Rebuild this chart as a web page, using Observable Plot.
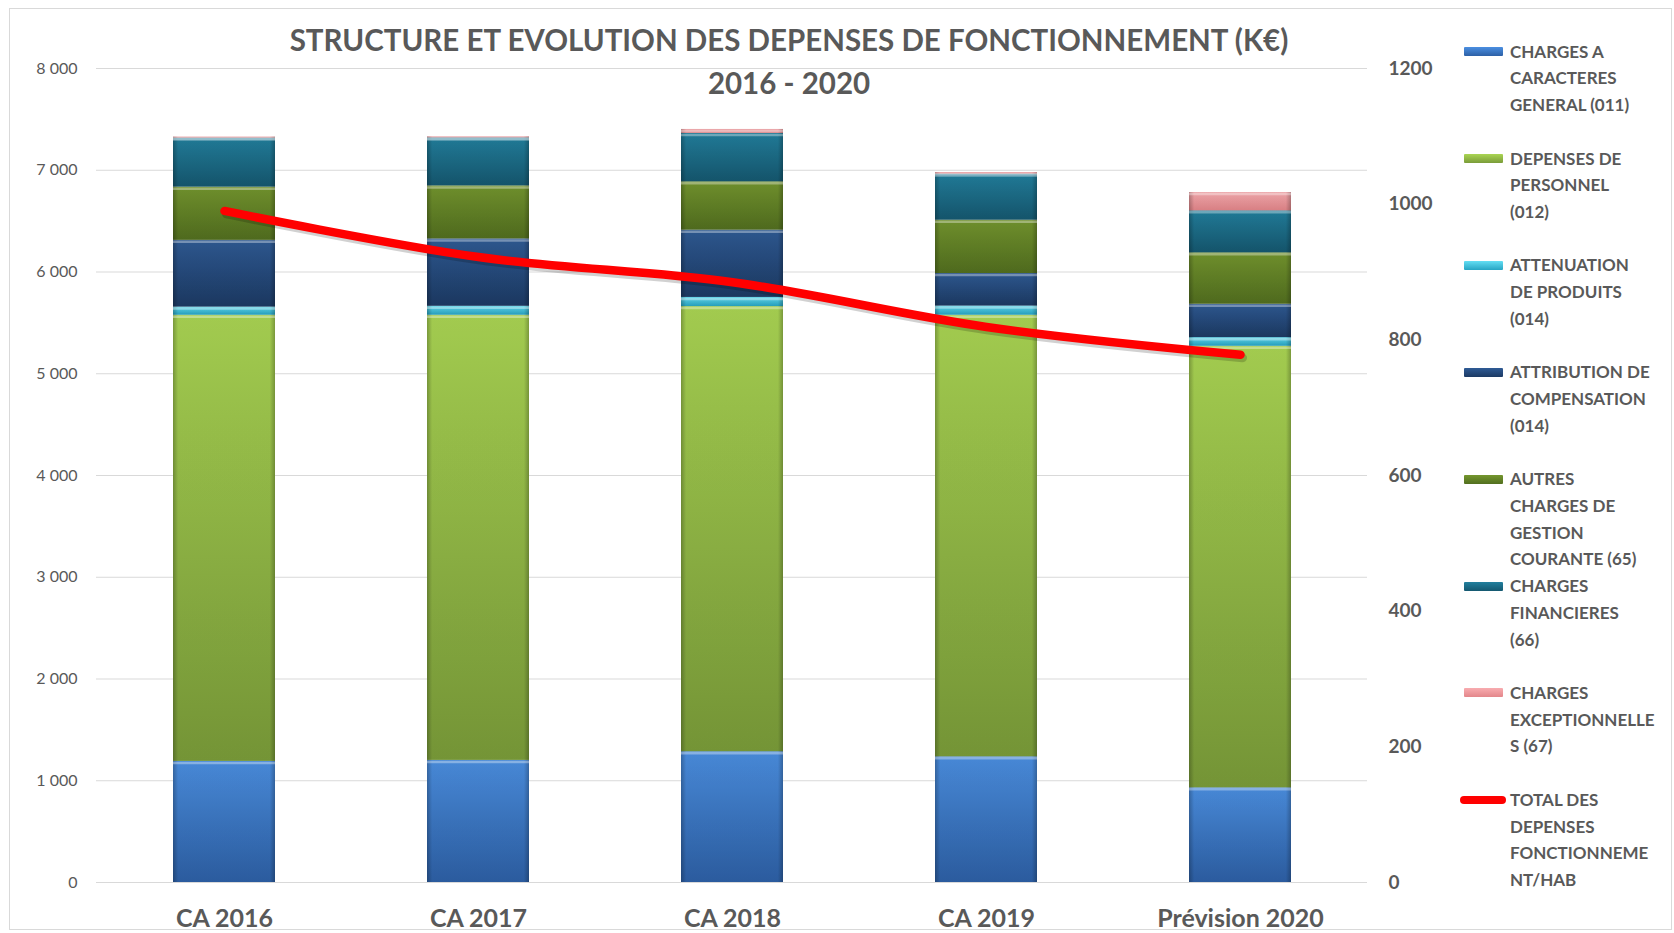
<!DOCTYPE html>
<html><head><meta charset="utf-8">
<script src="https://cdn.jsdelivr.net/npm/d3@7"></script>
<script src="https://cdn.jsdelivr.net/npm/@observablehq/plot@0.6"></script>
<style>
html,body{margin:0;padding:0;background:#fff;}
#wrap{position:relative;width:1674px;height:933px;overflow:hidden;font-family:Lato,"Open Sans",sans-serif;color:#595959;}
#frame{position:absolute;left:9px;top:8px;width:1663px;height:922px;border:1px solid #d9d9d9;box-sizing:border-box;}
#chart{position:absolute;left:0;top:0;}
#title{position:absolute;left:0;top:18px;width:1578px;text-align:center;font-weight:bold;font-size:29.5px;line-height:43px;color:#595959;}
.leg{position:absolute;left:1510px;font-weight:bold;font-size:17px;line-height:26.7px;color:#595959;white-space:nowrap;}
.sw{position:absolute;left:1464px;width:39px;height:9px;border-radius:1px;}
.swl{position:absolute;left:1460px;width:46px;height:8px;border-radius:4px;background:#ff0000;}
</style>
</head><body>
<svg width="0" height="0" style="position:absolute">
<defs id="defs"></defs>
</svg>
<div id="wrap">
<div id="frame"></div>
<div id="chart"></div>
<div id="title">STRUCTURE ET EVOLUTION DES DEPENSES DE FONCTIONNEMENT (K€)<br>2016 - 2020</div>
<div id="legend"></div>
</div>
<script>
// ---- data ----
const categories = ["CA 2016", "CA 2017", "CA 2018", "CA 2019", "Prévision 2020"];
const seriesNames = [
  "CHARGES A CARACTERES GENERAL (011)",
  "DEPENSES DE PERSONNEL (012)",
  "ATTENUATION DE PRODUITS (014)",
  "ATTRIBUTION DE COMPENSATION (014)",
  "AUTRES CHARGES DE GESTION COURANTE (65)",
  "CHARGES FINANCIERES (66)",
  "CHARGES EXCEPTIONNELLES (67)"
];
const chargesGenerales011 = [1190, 1200, 1285, 1235, 930];
const personnel012 = [4385, 4375, 4375, 4340, 4340];
const attenuation014 = [80, 88, 90, 90, 85];
const attribution014 = [656, 662, 661, 320, 328];
const autresGestion65 = [523, 521, 475, 524, 505];
const financieres66 = [482, 472, 476, 453, 413];
const exceptionnelles67 = [10, 10, 39, 15, 180];
const lineName = "TOTAL DES DEPENSES FONCTIONNEMENT/HAB";
const totalParHab = [990, 922, 885, 819, 778];
const leftTicks = [0, 1000, 2000, 3000, 4000, 5000, 6000, 7000, 8000];
const rightTicks = [0, 200, 400, 600, 800, 1000, 1200];
const legendLines = [
  ["CHARGES A", "CARACTERES", "GENERAL (011)"],
  ["DEPENSES DE", "PERSONNEL", "(012)"],
  ["ATTENUATION", "DE PRODUITS", "(014)"],
  ["ATTRIBUTION DE", "COMPENSATION", "(014)"],
  ["AUTRES", "CHARGES DE", "GESTION", "COURANTE (65)"],
  ["CHARGES", "FINANCIERES", "(66)"],
  ["CHARGES", "EXCEPTIONNELLE", "S (67)"],
  ["TOTAL DES", "DEPENSES", "FONCTIONNEME", "NT/HAB"]
];
const colorsTop = ["#4b8fe1", "#aad553", "#63def3", "#2f5b95", "#74962e", "#22809e", "#f8acb0"];
const colorsBottom = ["#2d60a6", "#7a9c39", "#27a5c4", "#1c3a64", "#526f1f", "#155870", "#e3868a"];

// ---- gradients ----
const defs = document.getElementById("defs");
let html = "";
seriesNames.forEach((s, i) => {
  html += `<linearGradient id="g${i}" x1="0" y1="0" x2="0" y2="1"><stop offset="0" stop-color="${colorsTop[i]}"/><stop offset="1" stop-color="${colorsBottom[i]}"/></linearGradient>`;
});
html += `<linearGradient id="sides" x1="0" y1="0" x2="1" y2="0"><stop offset="0" stop-color="#000" stop-opacity="0.28"/><stop offset="0.05" stop-color="#000" stop-opacity="0.05"/><stop offset="0.95" stop-color="#000" stop-opacity="0.05"/><stop offset="1" stop-color="#000" stop-opacity="0.28"/></linearGradient>`;
defs.innerHTML = html;

const valuesBySeries = [chargesGenerales011, personnel012, attenuation014, attribution014, autresGestion65, financieres66, exceptionnelles67];
const rows = categories.flatMap((c, i) => seriesNames.map((s, j) => ({cat: c, serie: s, value: valuesBySeries[j][i]})));
const k = 8000 / 1200;
const lineRows = categories.map((c, i) => ({cat: c, v: totalParHab[i]}));
const fmt = d => d3.format(",")(d).replace(/,/g, " ");

const chart = Plot.plot({
  width: 1674, height: 933,
  marginTop: 68, marginBottom: 51, marginLeft: 96, marginRight: 307,
  style: {fontFamily: "Lato, 'Open Sans', sans-serif", color: "#595959", background: "transparent", overflow: "visible"},
  x: {domain: categories, paddingInner: 0.6, paddingOuter: 0.3, label: null},
  y: {domain: [0, 8000], label: null},
  color: {domain: seriesNames, range: seriesNames.map((s, i) => `url(#g${i})`)},
  marks: [
    Plot.gridY(leftTicks, {stroke: "#d9d9d9", strokeOpacity: 1, strokeWidth: 1.2}),
    Plot.axisY(leftTicks, {anchor: "left", tickSize: 0, tickPadding: 19, tickFormat: fmt, fontSize: 16, label: null}),
    Plot.axisY(rightTicks.map(v => v * k), {anchor: "right", tickSize: 0, tickPadding: 21, tickFormat: d => String(Math.round(d / k)), fontSize: 19, fontWeight: "bold", label: null}),
    Plot.axisX({tickSize: 0, tickPadding: 27, fontSize: 25, fontWeight: "bold", label: null}),
    Plot.barY(rows, {x: "cat", y: "value", z: "serie", fill: "serie", order: seriesNames}),
    Plot.barY(rows, {x: "cat", y: "value", z: "serie", fill: "url(#sides)", order: seriesNames}),
    Plot.tickY(rows, Plot.stackY2({x: "cat", y: "value", z: "serie", order: seriesNames, stroke: "#ffffff", strokeOpacity: 0.35, strokeWidth: 2.5, dy: 1.5})),
    Plot.line(lineRows, {x: "cat", y: d => d.v * k, stroke: "#000", strokeOpacity: 0.18, strokeWidth: 9, strokeLinecap: "round", curve: "catmull-rom", dy: 3, dx: 2}),
    Plot.line(lineRows, {x: "cat", y: d => d.v * k, stroke: "#ff0000", strokeWidth: 8.5, strokeLinecap: "round", strokeLinejoin: "round", curve: "catmull-rom"})
  ]
});
document.getElementById("chart").appendChild(chart);

// ---- legend ----
const leg = document.getElementById("legend");
legendLines.forEach((lines, i) => {
  const top = 52 + i * 106.9;
  const t = document.createElement("div");
  t.className = "leg";
  t.style.top = (top - 13.35) + "px";
  t.innerHTML = lines.join("<br>");
  leg.appendChild(t);
  const sw = document.createElement("div");
  if (i < seriesNames.length) {
    sw.className = "sw";
    sw.style.top = (top - 5) + "px";
    sw.style.background = `linear-gradient(${colorsTop[i]}, ${colorsBottom[i]})`;
  } else {
    sw.className = "swl";
    sw.style.top = (top - 4) + "px";
  }
  leg.appendChild(sw);
});
</script>
</body></html>
